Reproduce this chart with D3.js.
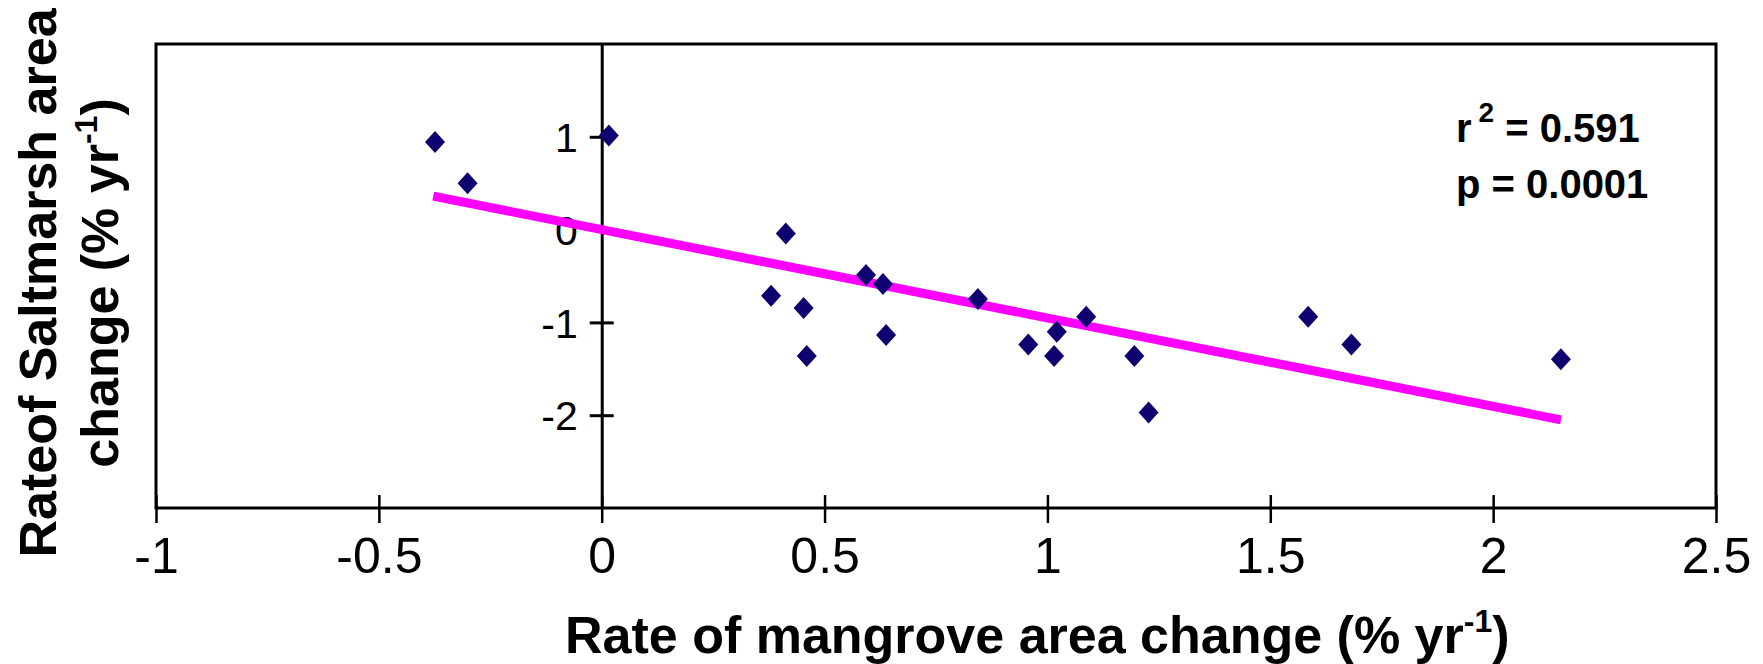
<!DOCTYPE html>
<html>
<head>
<meta charset="utf-8">
<script src="https://cdn.jsdelivr.net/npm/d3@7"></script>
<style>
  body { margin: 0; background: #fff; }
  svg text { font-family: Arial, "Liberation Sans", sans-serif; fill: #000; }
</style>
</head>
<body>
<div id="chart"></div>
<script>
// values
const mangroveRate  = [-0.374, -0.301, 0.016, 0.380, 0.413, 0.453, 0.460, 0.593, 0.631, 0.638, 0.844, 0.957, 1.015, 1.021, 1.087, 1.195, 1.227, 1.585, 1.682, 2.152];
const saltmarshRate = [0.944, 0.499, 1.015, -0.713, -0.043, -0.846, -1.363, -0.488, -0.586, -1.136, -0.749, -1.237, -1.363, -1.100, -0.940, -1.363, -1.971, -0.940, -1.237, -1.398];
const trendX = [-0.378, 2.152];
const trendY = [0.36, -2.05];
const xTicks = [-1, -0.5, 0, 0.5, 1, 1.5, 2, 2.5];
const yTicks = [-2, -1, 0, 1];
const xDomain = [-1, 2.5];
const yDomain = [-3, 2];
const statLabels = ["0.591", "0.0001"];

const width = 1763;
const height = 664;
const plot = {left: 156, right: 1716, top: 44, bottom: 508};

const svg = d3.select("#chart")
  .append("svg")
  .attr("width", width)
  .attr("height", height);

const x = d3.scaleLinear().domain(xDomain).range([plot.left, plot.right]);
const y = d3.scaleLinear().domain(yDomain).range([plot.bottom, plot.top]);

// frame
svg.append("rect")
   .attr("x", x(xDomain[0]))
   .attr("y", y(yDomain[1]))
   .attr("width", x(xDomain[1]) - x(xDomain[0]))
   .attr("height", y(yDomain[0]) - y(yDomain[1]))
   .attr("fill", "none")
   .attr("stroke", "#000")
   .attr("stroke-width", 3);

// x axis, ticks cross the line
const xAxis = d3.axisBottom(x)
  .tickValues(xTicks)
  .tickFormat(d => String(d))
  .tickSize(15);

const gx = svg.append("g")
  .attr("transform", `translate(0, ${y(yDomain[0])})`)
  .call(xAxis);
gx.select(".domain").remove();
gx.selectAll(".tick line")
  .attr("y1", -13)
  .attr("stroke-width", 2.5);
gx.selectAll(".tick text")
  .attr("y", 65)
  .attr("dy", null)
  .style("font-size", "50px");

// y axis sits at x = 0
const yAxis = d3.axisLeft(y)
  .tickValues(yTicks)
  .tickFormat(d => String(d))
  .tickSizeInner(12)
  .tickSizeOuter(0);

const gy = svg.append("g")
  .attr("transform", `translate(${x(0)}, 0)`)
  .call(yAxis);
gy.select(".domain").attr("stroke-width", 3);
gy.selectAll(".tick line")
  .attr("x2", 12)
  .attr("x1", -12)
  .attr("stroke-width", 3);
gy.selectAll(".tick text")
  .attr("x", -24)
  .attr("dy", "0.36em")
  .style("font-size", "41px");

// trend line
const line = d3.line()
  .x(d => x(d[0]))
  .y(d => y(d[1]));

svg.append("path")
   .datum(d3.zip(trendX, trendY))
   .attr("d", line)
   .attr("fill", "none")
   .attr("stroke", "#ff00ff")
   .attr("stroke-width", 9);

// diamond markers
svg.selectAll(".pt")
   .data(d3.zip(mangroveRate, saltmarshRate))
   .enter()
   .append("path")
   .attr("class", "pt")
   .attr("transform", d => `translate(${x(d[0])}, ${y(d[1])})`)
   .attr("d", "M0,-11L10,0L0,11L-10,0Z")
   .attr("fill", "#0e006f");

// stats
const stat1 = svg.append("text")
  .attr("x", 1456)
  .attr("y", 142)
  .style("font-size", "40px")
  .style("font-weight", "bold");
stat1.append("tspan").text("r");
stat1.append("tspan").attr("dx", 7).attr("dy", -20).style("font-size", "28px").text("2");
stat1.append("tspan").attr("dy", 20).text(" = " + statLabels[0]);

svg.append("text")
   .attr("x", 1456)
   .attr("y", 198)
   .style("font-size", "40px")
   .style("font-weight", "bold")
   .text("p = " + statLabels[1]);

// axis titles
const xTitle = svg.append("text")
  .attr("x", 565)
  .attr("y", 653)
  .style("font-size", "52px")
  .style("font-weight", "bold");
xTitle.append("tspan").text("Rate of mangrove area change (% yr");
xTitle.append("tspan").attr("dy", -21).style("font-size", "32px").text("-1");
xTitle.append("tspan").attr("dy", 21).text(")");

const yTitle = svg.append("g")
  .attr("transform", "translate(0, 283) rotate(-90)")
  .style("font-size", "52px")
  .style("font-weight", "bold");
yTitle.append("text")
  .attr("y", 56)
  .attr("text-anchor", "middle")
  .text("Rateof Saltmarsh area");
const yLine2 = yTitle.append("text")
  .attr("y", 118)
  .attr("text-anchor", "middle");
yLine2.append("tspan").text("change (% yr");
yLine2.append("tspan").attr("dy", -21).style("font-size", "32px").text("-1");
yLine2.append("tspan").attr("dy", 21).text(")");
</script>
</body>
</html>
